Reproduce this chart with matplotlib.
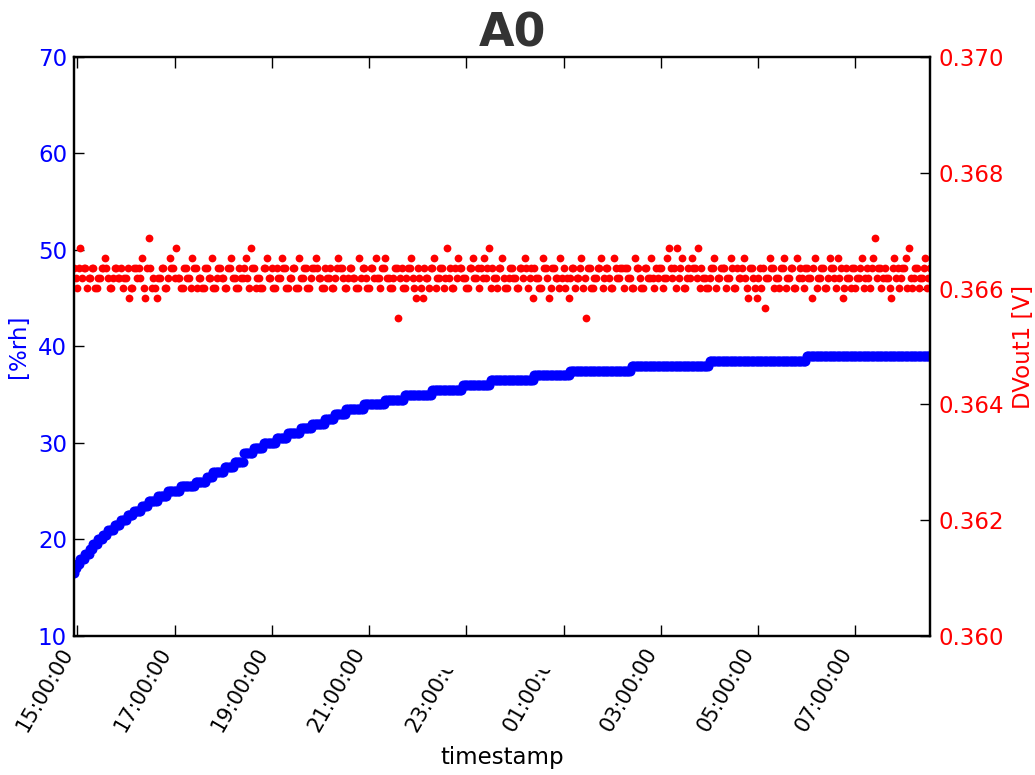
import datetime as dt
import numpy as np
import matplotlib
matplotlib.use("Agg")
import matplotlib.pyplot as plt
import matplotlib.dates as mdates
from matplotlib.ticker import FixedLocator, FormatStrFormatter
from matplotlib.transforms import Bbox

# --- logger data: one sample every 2 minutes, starting 14:56 ---
start_time = dt.datetime(2014, 6, 10, 14, 56)
sample_minutes = 2
n_samples = 529

# relative humidity [%rh], run-length encoded (value, number of samples)
rh_values = [16.5, 17.0, 17.5, 18.0, 18.5, 19.0, 19.5, 20.0, 20.5, 21.0,
             21.5, 22.0, 22.5, 23.0, 23.5, 24.0, 24.5, 25.0, 25.5, 26.0,
             26.5, 27.0, 27.5, 28.0, 29.0, 29.5, 30.0, 30.5, 31.0, 31.5,
             32.0, 32.5, 33.0, 33.5, 34.0, 34.5, 35.0, 35.5, 36.0, 36.5,
             37.0, 37.5, 38.0, 38.5, 39.0]
rh_counts = [1, 1, 2, 3, 3, 2, 3, 3, 3, 4,
             4, 4, 4, 5, 4, 6, 6, 8, 9, 7,
             4, 7, 6, 6, 6, 6, 8, 7, 8, 7,
             8, 6, 7, 11, 13, 12, 17, 19, 17, 27,
             22, 38, 48, 60, 77]

# sensor output DVout1 [V]: ADC levels and per-sample level codes
dv_levels = [0.36550, 0.36567, 0.36584, 0.36601, 0.36618,
             0.36635, 0.36653, 0.36670, 0.36687]
dv_codes = (
    "5435745534" "4553344556" "5433455445" "3445233554" "5463258534"
    "3244553346" "5547443355" "4436553443" "3554463345" "5443355644"
    "3354456437" "5534433556" "4453354465" "5334455336" "4455334556"
    "5443354453" "3456554334" "5544336455" "4335546443" "5564433455"
    "0453345564" "3254325443" "5563445534" "7453354655" "4433556445"
    "3546457354" "4355643345" "5443355465" "3452544336" "5542355443"
    "6453424553" "4456340553" "3445563455" "4336544553" "5544336554"
    "3355446435" "4553446754" "5374563345" "4655473544" "3345563445"
    "5534465335" "4456432554" "3245351446" "5534435563" "4455336454"
    "3554425634" "4553346554" "3645235443" "5534456345" "4356845534"
    "5443256453" "4556374345" "534456345"
)

rh_ticks = [10, 20, 30, 40, 50, 60, 70]
dv_ticks = [0.360, 0.362, 0.364, 0.366, 0.368, 0.370]
hour_ticks = [15, 17, 19, 21, 23, 1, 3, 5, 7]

times = [start_time + dt.timedelta(minutes=sample_minutes * i) for i in range(n_samples)]
rh = np.repeat(rh_values, rh_counts)
dv = np.array([dv_levels[int(c)] for c in dv_codes])

fig = plt.figure(figsize=(10.35, 7.75), dpi=100)
ax1 = fig.add_axes([0.0715, 0.1794, 0.8271, 0.7471])
ax2 = ax1.twinx()

ax1.plot(times, rh, linestyle="none", marker="o", markersize=7.2,
         color="#0000ff", markeredgewidth=0)
ax2.plot(times, dv, linestyle="none", marker="o", markersize=5.6,
         color="#ff0000", markeredgewidth=0)

ax1.set_xlim(times[0], times[-1])
ax1.set_ylim(10, 70)
ax2.set_ylim(0.360, 0.370)
ax1.yaxis.set_major_locator(FixedLocator(rh_ticks))
ax2.yaxis.set_major_locator(FixedLocator(dv_ticks))
ax2.yaxis.set_major_formatter(FormatStrFormatter("%.3f"))

# fixed tick positions on the odd hours
tick_times = []
day = start_time.date()
for h in hour_ticks:
    d = day if h >= 15 else day + dt.timedelta(days=1)
    tick_times.append(mdates.date2num(dt.datetime.combine(d, dt.time(h, 0))))
ax1.xaxis.set_major_locator(FixedLocator(tick_times))
ax1.xaxis.set_major_formatter(mdates.DateFormatter("%H:%M:%S"))

for spine in ax2.spines.values():
    spine.set_linewidth(1.6)
for spine in ax1.spines.values():
    spine.set_linewidth(1.6)

ax1.tick_params(axis="x", direction="in", length=8, width=1, top=True,
                labelsize=15, pad=6)
ax1.tick_params(axis="y", direction="in", length=7, width=1,
                labelsize=16.5, labelcolor="#0000ff", pad=5)
ax2.tick_params(axis="y", direction="in", length=7, width=1,
                labelsize=16.5, labelcolor="#ff0000", pad=6)
ax2.tick_params(axis="x", top=False, bottom=False)

for lab in ax1.get_xticklabels():
    lab.set_rotation(60)
    lab.set_ha("right")

ax1.set_ylabel("[%rh]", color="#0000ff", fontsize=16.5, labelpad=6)
ax2.set_ylabel("DVout1 [V]", color="#ff0000", fontsize=16.5, labelpad=6)
ax1.set_xlabel("timestamp", fontsize=16.5, labelpad=8)
ax1.set_title("A0", fontsize=33, fontweight="bold", color="#333333", pad=4,
              x=0.512)

fig.canvas.draw()
# the 23:00 and 01:00 labels are cut off just under the axis
cut = Bbox.from_extents(0, 0, fig.bbox.width, 775 - 670)
ticks = ax1.xaxis.get_major_ticks()
for k in (4, 5):
    ticks[k].label1.set_clip_box(cut)
    ticks[k].label1.set_clip_on(True)

fig.savefig("out.png", dpi=100)
